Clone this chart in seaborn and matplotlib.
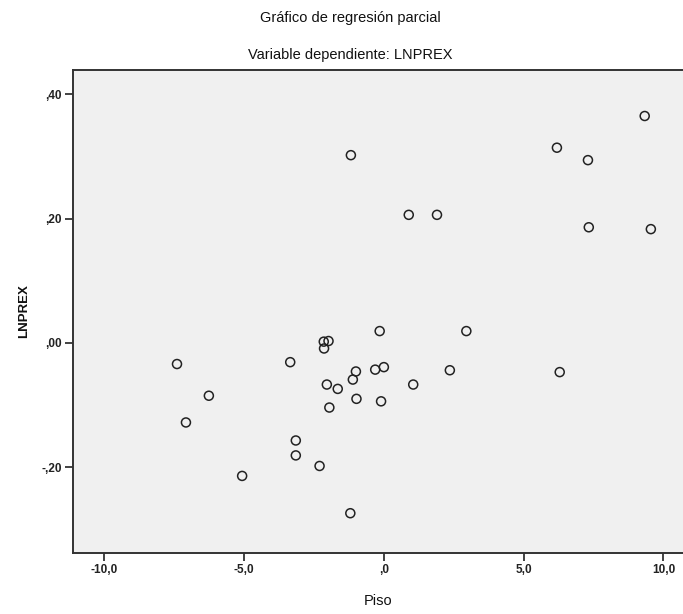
import matplotlib
matplotlib.use("Agg")
import matplotlib.pyplot as plt
import seaborn as sns
import pandas as pd

# Partial regression residuals: Piso (x) vs LNPREX (y)
piso = [9.33, 6.19, 7.30, -1.18, 0.89, 1.90, 7.33, 9.55, -0.15, 2.95,
        -2.15, -1.98, -2.14, -7.40, -3.35, 0.00, -0.31, -1.00, -1.11, 2.36,
        6.29, -2.04, 1.05, -1.65, -6.26, -0.98, -0.10, -1.95, -7.08, -3.15,
        -3.15, -2.30, -5.07, -1.20]
lnprex = [0.365, 0.314, 0.294, 0.302, 0.206, 0.206, 0.186, 0.183, 0.019, 0.019,
          0.002, 0.003, -0.009, -0.034, -0.031, -0.039, -0.043, -0.046, -0.059, -0.044,
          -0.047, -0.067, -0.067, -0.074, -0.085, -0.090, -0.094, -0.104, -0.128, -0.157,
          -0.181, -0.198, -0.214, -0.274]

x_ticks = [-10, -5, 0, 5, 10]
x_tick_labels = ["-10,0", "-5,0", ",0", "5,0", "10,0"]
y_ticks = [-0.2, 0.0, 0.2, 0.4]
y_tick_labels = ["-,20", ",00", ",20", ",40"]

title_main = "Gráfico de regresión parcial"
title_sub = "Variable dependiente: LNPREX"

df = pd.DataFrame({"Piso": piso, "LNPREX": lnprex})

sns.set_theme(style="white")
plt.rcParams["font.family"] = ["Liberation Sans", "DejaVu Sans"]

fig = plt.figure(figsize=(6.83, 6.14), dpi=100)
ax = fig.add_axes([73 / 683, 1 - 553 / 614, 610 / 683, (553 - 70) / 614])
ax.set_facecolor("#f0f0f0")

sns.scatterplot(data=df, x="Piso", y="LNPREX", ax=ax, s=42,
                facecolor="none", edgecolor="#222222", linewidth=1.1)

ax.set_xlim(-11.12, 10.7)
ax.set_ylim(-0.338, 0.439)
ax.set_xticks(x_ticks)
ax.set_xticklabels(x_tick_labels, fontsize=8.5, fontweight="bold", color="#222222")
ax.set_yticks(y_ticks)
ax.set_yticklabels(y_tick_labels, fontsize=8.5, fontweight="bold", color="#222222")
ax.tick_params(axis="both", direction="out", length=6, width=1.2, color="#222222",
               bottom=True, left=True, pad=2)

for side in ["left", "bottom", "top"]:
    ax.spines[side].set_color("#333333")
    ax.spines[side].set_linewidth(1.4)
ax.spines["right"].set_visible(False)

ax.set_xlabel("Piso", fontsize=10.5, color="#111111", labelpad=13)
ax.set_ylabel("LNPREX", fontsize=9.5, fontweight="bold", color="#111111", labelpad=8)

fig.text(350 / 683, 1 - 18 / 614, title_main, ha="center", va="center",
         fontsize=10.5, color="#111111")
fig.text(350 / 683, 1 - 55 / 614, title_sub, ha="center", va="center",
         fontsize=10.5, color="#111111")

fig.savefig("out.png", dpi=100, facecolor="white")
